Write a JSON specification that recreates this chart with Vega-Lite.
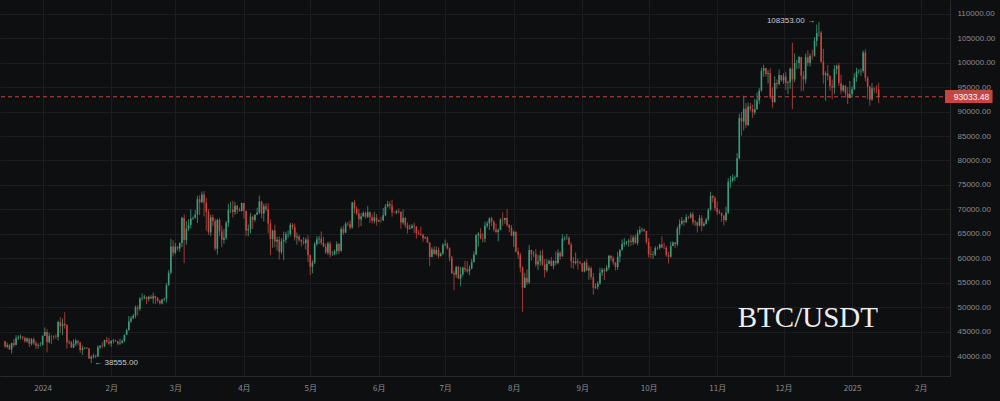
{
"$schema": "https://vega.github.io/schema/vega-lite/v6.json",
"width": 950, "height": 376,
"autosize": {"type": "none"},
"padding": {"left": 0, "top": 0, "right": 50, "bottom": 25},
"background": "#0e0f11",
"config": {"view": {"stroke": null}, "font": "Liberation Sans",
"axis": {"title": null, "grid": true, "gridColor": "#1c1d21", "gridWidth": 1, "domain": true, "domainColor": "#2a2b2f", "ticks": false, "labelColor": "#8a8c91", "labelFontSize": 8, "labelOverlap": false}},
"datasets": {
"candles": [
{"t":"2023-12-15","o":43022,"h":43080,"l":41666,"c":41940},
{"t":"2023-12-16","o":41940,"h":42724,"l":41605,"c":42278},
{"t":"2023-12-17","o":42278,"h":42424,"l":41252,"c":41374},
{"t":"2023-12-18","o":41374,"h":42757,"l":40542,"c":42657},
{"t":"2023-12-19","o":42657,"h":43497,"l":41811,"c":42271},
{"t":"2023-12-20","o":42271,"h":44283,"l":42206,"c":43652},
{"t":"2023-12-21","o":43652,"h":44240,"l":43330,"c":43869},
{"t":"2023-12-22","o":43869,"h":44398,"l":43412,"c":43997},
{"t":"2023-12-23","o":43997,"h":44000,"l":43300,"c":43740},
{"t":"2023-12-24","o":43740,"h":43946,"l":42749,"c":43016},
{"t":"2023-12-25","o":43016,"h":43800,"l":42720,"c":43613},
{"t":"2023-12-26","o":43613,"h":43647,"l":41820,"c":42520},
{"t":"2023-12-27","o":42520,"h":43683,"l":42167,"c":43442},
{"t":"2023-12-28","o":43442,"h":43804,"l":42318,"c":42627},
{"t":"2023-12-29","o":42627,"h":43124,"l":41424,"c":42099},
{"t":"2023-12-30","o":42099,"h":42612,"l":41520,"c":42283},
{"t":"2023-12-31","o":42283,"h":42899,"l":41965,"c":42290},
{"t":"2024-01-01","o":42283,"h":44184,"l":42180,"c":44179},
{"t":"2024-01-02","o":44179,"h":45879,"l":44148,"c":44946},
{"t":"2024-01-03","o":44946,"h":45500,"l":40750,"c":42845},
{"t":"2024-01-04","o":42845,"h":44729,"l":42613,"c":44151},
{"t":"2024-01-05","o":44151,"h":44357,"l":42450,"c":44145},
{"t":"2024-01-06","o":44145,"h":44214,"l":43397,"c":43968},
{"t":"2024-01-07","o":43968,"h":44480,"l":43572,"c":43929},
{"t":"2024-01-08","o":43929,"h":47248,"l":43175,"c":46951},
{"t":"2024-01-09","o":46951,"h":47972,"l":44748,"c":46110},
{"t":"2024-01-10","o":46110,"h":47695,"l":44300,"c":46633},
{"t":"2024-01-11","o":46633,"h":48969,"l":45606,"c":46339},
{"t":"2024-01-12","o":46339,"h":46515,"l":41500,"c":42782},
{"t":"2024-01-13","o":42782,"h":43257,"l":42436,"c":42847},
{"t":"2024-01-14","o":42847,"h":43079,"l":41720,"c":41732},
{"t":"2024-01-15","o":41732,"h":43400,"l":41718,"c":42511},
{"t":"2024-01-16","o":42511,"h":43578,"l":42050,"c":43137},
{"t":"2024-01-17","o":43137,"h":43198,"l":42200,"c":42776},
{"t":"2024-01-18","o":42776,"h":42930,"l":40683,"c":41262},
{"t":"2024-01-19","o":41262,"h":42195,"l":40280,"c":41618},
{"t":"2024-01-20","o":41618,"h":41840,"l":41400,"c":41665},
{"t":"2024-01-21","o":41665,"h":41882,"l":41500,"c":41545},
{"t":"2024-01-22","o":41545,"h":41689,"l":39431,"c":39507},
{"t":"2024-01-23","o":39507,"h":40129,"l":38555,"c":39845},
{"t":"2024-01-24","o":39845,"h":40498,"l":39484,"c":40077},
{"t":"2024-01-25","o":40077,"h":40300,"l":39550,"c":39933},
{"t":"2024-01-26","o":39933,"h":42225,"l":39822,"c":41816},
{"t":"2024-01-27","o":41816,"h":42200,"l":41394,"c":42120},
{"t":"2024-01-28","o":42120,"h":42842,"l":41620,"c":42035},
{"t":"2024-01-29","o":42035,"h":43305,"l":41804,"c":43288},
{"t":"2024-01-30","o":43288,"h":43882,"l":42683,"c":42952},
{"t":"2024-01-31","o":42952,"h":43745,"l":42276,"c":42582},
{"t":"2024-02-01","o":42582,"h":43285,"l":41884,"c":43082},
{"t":"2024-02-02","o":43082,"h":43495,"l":42566,"c":43200},
{"t":"2024-02-03","o":43200,"h":43380,"l":42880,"c":43011},
{"t":"2024-02-04","o":43011,"h":43120,"l":42222,"c":42582},
{"t":"2024-02-05","o":42582,"h":43530,"l":42259,"c":42708},
{"t":"2024-02-06","o":42708,"h":43400,"l":42574,"c":43098},
{"t":"2024-02-07","o":43098,"h":44396,"l":42788,"c":44349},
{"t":"2024-02-08","o":44349,"h":45614,"l":44331,"c":45288},
{"t":"2024-02-09","o":45288,"h":48200,"l":45242,"c":47132},
{"t":"2024-02-10","o":47132,"h":48170,"l":46800,"c":47751},
{"t":"2024-02-11","o":47751,"h":48592,"l":47557,"c":48299},
{"t":"2024-02-12","o":48299,"h":50334,"l":47710,"c":49917},
{"t":"2024-02-13","o":49917,"h":50368,"l":48300,"c":49700},
{"t":"2024-02-14","o":49700,"h":52043,"l":49225,"c":51795},
{"t":"2024-02-15","o":51795,"h":52816,"l":51315,"c":51880},
{"t":"2024-02-16","o":51880,"h":52572,"l":51566,"c":52124},
{"t":"2024-02-17","o":52124,"h":52191,"l":50625,"c":51642},
{"t":"2024-02-18","o":51642,"h":52356,"l":51200,"c":52137},
{"t":"2024-02-19","o":52137,"h":52488,"l":51677,"c":51774},
{"t":"2024-02-20","o":51774,"h":52985,"l":50760,"c":52258},
{"t":"2024-02-21","o":52258,"h":52366,"l":50625,"c":51849},
{"t":"2024-02-22","o":51849,"h":52065,"l":50940,"c":51288},
{"t":"2024-02-23","o":51288,"h":51548,"l":50521,"c":50745},
{"t":"2024-02-24","o":50745,"h":51706,"l":50550,"c":51571},
{"t":"2024-02-25","o":51571,"h":51950,"l":51280,"c":51733},
{"t":"2024-02-26","o":51733,"h":54938,"l":50931,"c":54476},
{"t":"2024-02-27","o":54476,"h":57588,"l":54450,"c":57037},
{"t":"2024-02-28","o":57037,"h":64000,"l":56691,"c":62432},
{"t":"2024-02-29","o":62432,"h":63676,"l":60364,"c":61130},
{"t":"2024-03-01","o":61130,"h":63114,"l":60777,"c":62387},
{"t":"2024-03-02","o":62387,"h":62433,"l":61561,"c":61987},
{"t":"2024-03-03","o":61987,"h":63231,"l":61321,"c":63113},
{"t":"2024-03-04","o":63113,"h":68499,"l":62300,"c":68245},
{"t":"2024-03-05","o":68245,"h":69000,"l":59005,"c":63724},
{"t":"2024-03-06","o":63724,"h":67637,"l":62786,"c":66074},
{"t":"2024-03-07","o":66074,"h":67985,"l":65600,"c":66823},
{"t":"2024-03-08","o":66823,"h":69990,"l":66082,"c":68124},
{"t":"2024-03-09","o":68124,"h":68541,"l":67861,"c":68313},
{"t":"2024-03-10","o":68313,"h":69887,"l":68094,"c":68955},
{"t":"2024-03-11","o":68955,"h":72800,"l":67194,"c":72078},
{"t":"2024-03-12","o":72078,"h":72890,"l":68845,"c":71452},
{"t":"2024-03-13","o":71452,"h":73650,"l":71334,"c":73072},
{"t":"2024-03-14","o":73072,"h":73777,"l":68555,"c":71388},
{"t":"2024-03-15","o":71388,"h":72357,"l":65630,"c":69499},
{"t":"2024-03-16","o":69499,"h":70043,"l":64780,"c":65300},
{"t":"2024-03-17","o":65300,"h":68904,"l":64533,"c":68393},
{"t":"2024-03-18","o":68393,"h":68957,"l":66594,"c":67609},
{"t":"2024-03-19","o":67609,"h":68124,"l":61555,"c":61937},
{"t":"2024-03-20","o":61937,"h":68100,"l":60775,"c":67840},
{"t":"2024-03-21","o":67840,"h":68240,"l":64529,"c":65501},
{"t":"2024-03-22","o":65501,"h":66650,"l":62260,"c":63796},
{"t":"2024-03-23","o":63796,"h":65999,"l":63000,"c":64209},
{"t":"2024-03-24","o":64209,"h":67624,"l":63803,"c":67234},
{"t":"2024-03-25","o":67234,"h":71162,"l":66385,"c":69958},
{"t":"2024-03-26","o":69958,"h":71561,"l":69280,"c":69987},
{"t":"2024-03-27","o":69987,"h":71769,"l":68359,"c":69455},
{"t":"2024-03-28","o":69455,"h":71552,"l":68903,"c":70744},
{"t":"2024-03-29","o":70744,"h":70913,"l":69076,"c":69892},
{"t":"2024-03-30","o":69892,"h":70355,"l":69601,"c":69645},
{"t":"2024-03-31","o":69645,"h":71366,"l":69562,"c":71333},
{"t":"2024-04-01","o":71333,"h":71342,"l":68110,"c":69702},
{"t":"2024-04-02","o":69702,"h":69708,"l":64537,"c":65709},
{"t":"2024-04-03","o":65709,"h":66914,"l":64493,"c":66000},
{"t":"2024-04-04","o":66000,"h":69292,"l":65064,"c":68508},
{"t":"2024-04-05","o":68508,"h":68725,"l":66011,"c":67837},
{"t":"2024-04-06","o":67837,"h":69000,"l":67438,"c":68896},
{"t":"2024-04-07","o":68896,"h":70326,"l":68824,"c":69360},
{"t":"2024-04-08","o":69360,"h":72797,"l":69043,"c":71620},
{"t":"2024-04-09","o":71620,"h":71758,"l":68210,"c":69146},
{"t":"2024-04-10","o":69146,"h":71172,"l":67518,"c":70631},
{"t":"2024-04-11","o":70631,"h":71305,"l":69567,"c":70006},
{"t":"2024-04-12","o":70006,"h":71227,"l":65086,"c":67116},
{"t":"2024-04-13","o":67116,"h":67932,"l":60660,"c":63924},
{"t":"2024-04-14","o":63924,"h":65840,"l":62134,"c":65661},
{"t":"2024-04-15","o":65661,"h":66867,"l":62274,"c":63419},
{"t":"2024-04-16","o":63419,"h":64365,"l":61600,"c":63793},
{"t":"2024-04-17","o":63793,"h":64499,"l":59768,"c":61277},
{"t":"2024-04-18","o":61277,"h":64125,"l":60833,"c":63470},
{"t":"2024-04-19","o":63470,"h":65450,"l":59600,"c":63818},
{"t":"2024-04-20","o":63818,"h":65419,"l":63090,"c":64941},
{"t":"2024-04-21","o":64941,"h":65695,"l":64160,"c":64960},
{"t":"2024-04-22","o":64960,"h":67233,"l":64500,"c":66837},
{"t":"2024-04-23","o":66837,"h":67199,"l":65864,"c":66407},
{"t":"2024-04-24","o":66407,"h":67075,"l":63590,"c":64276},
{"t":"2024-04-25","o":64276,"h":65275,"l":62783,"c":64481},
{"t":"2024-04-26","o":64481,"h":64800,"l":63322,"c":63755},
{"t":"2024-04-27","o":63755,"h":63899,"l":62424,"c":63419},
{"t":"2024-04-28","o":63419,"h":64370,"l":62781,"c":63113},
{"t":"2024-04-29","o":63113,"h":64228,"l":61765,"c":63841},
{"t":"2024-04-30","o":63841,"h":64734,"l":59191,"c":60636},
{"t":"2024-05-01","o":60636,"h":60780,"l":56552,"c":58254},
{"t":"2024-05-02","o":58254,"h":59602,"l":56937,"c":59123},
{"t":"2024-05-03","o":59123,"h":63320,"l":58848,"c":62889},
{"t":"2024-05-04","o":62889,"h":64494,"l":62599,"c":63891},
{"t":"2024-05-05","o":63891,"h":64610,"l":62955,"c":64031},
{"t":"2024-05-06","o":64031,"h":65500,"l":62700,"c":63161},
{"t":"2024-05-07","o":63161,"h":64390,"l":62285,"c":62334},
{"t":"2024-05-08","o":62334,"h":62995,"l":60888,"c":61187},
{"t":"2024-05-09","o":61187,"h":63404,"l":60648,"c":63049},
{"t":"2024-05-10","o":63049,"h":63469,"l":60187,"c":60792},
{"t":"2024-05-11","o":60792,"h":61490,"l":60492,"c":60793},
{"t":"2024-05-12","o":60793,"h":61818,"l":60632,"c":61448},
{"t":"2024-05-13","o":61448,"h":63450,"l":60750,"c":62901},
{"t":"2024-05-14","o":62901,"h":63099,"l":60888,"c":61552},
{"t":"2024-05-15","o":61552,"h":66444,"l":61329,"c":66010},
{"t":"2024-05-16","o":66010,"h":66686,"l":64766,"c":65231},
{"t":"2024-05-17","o":65231,"h":67459,"l":65119,"c":67051},
{"t":"2024-05-18","o":67051,"h":67400,"l":66600,"c":66940},
{"t":"2024-05-19","o":66940,"h":67700,"l":65857,"c":66278},
{"t":"2024-05-20","o":66278,"h":71515,"l":66060,"c":71446},
{"t":"2024-05-21","o":71446,"h":71979,"l":69162,"c":70148},
{"t":"2024-05-22","o":70148,"h":70666,"l":68842,"c":69166},
{"t":"2024-05-23","o":69166,"h":70096,"l":66312,"c":67969},
{"t":"2024-05-24","o":67969,"h":69250,"l":66600,"c":68549},
{"t":"2024-05-25","o":68549,"h":69610,"l":68500,"c":69290},
{"t":"2024-05-26","o":69290,"h":69562,"l":68128,"c":68507},
{"t":"2024-05-27","o":68507,"h":70687,"l":68250,"c":69436},
{"t":"2024-05-28","o":69436,"h":69591,"l":67277,"c":68398},
{"t":"2024-05-29","o":68398,"h":68935,"l":67124,"c":67652},
{"t":"2024-05-30","o":67652,"h":69500,"l":67128,"c":68352},
{"t":"2024-05-31","o":68352,"h":69044,"l":66670,"c":67540},
{"t":"2024-06-01","o":67540,"h":67900,"l":67428,"c":67766},
{"t":"2024-06-02","o":67766,"h":68460,"l":67257,"c":67765},
{"t":"2024-06-03","o":67765,"h":70288,"l":67612,"c":68809},
{"t":"2024-06-04","o":68809,"h":71063,"l":68567,"c":70567},
{"t":"2024-06-05","o":70567,"h":71758,"l":70383,"c":71082},
{"t":"2024-06-06","o":71082,"h":71625,"l":70119,"c":70757},
{"t":"2024-06-07","o":70757,"h":71997,"l":68500,"c":69342},
{"t":"2024-06-08","o":69342,"h":69582,"l":69208,"c":69305},
{"t":"2024-06-09","o":69305,"h":69887,"l":69018,"c":69647},
{"t":"2024-06-10","o":69647,"h":70195,"l":69172,"c":69512},
{"t":"2024-06-11","o":69512,"h":69568,"l":66051,"c":67321},
{"t":"2024-06-12","o":67321,"h":69999,"l":66902,"c":68243},
{"t":"2024-06-13","o":68243,"h":68449,"l":66251,"c":66756},
{"t":"2024-06-14","o":66756,"h":67320,"l":65078,"c":66011},
{"t":"2024-06-15","o":66011,"h":66895,"l":65890,"c":66191},
{"t":"2024-06-16","o":66191,"h":66998,"l":66034,"c":66639},
{"t":"2024-06-17","o":66639,"h":67298,"l":65130,"c":66490},
{"t":"2024-06-18","o":66490,"h":66556,"l":64066,"c":65140},
{"t":"2024-06-19","o":65140,"h":65738,"l":64693,"c":64960},
{"t":"2024-06-20","o":64960,"h":66482,"l":64559,"c":64829},
{"t":"2024-06-21","o":64829,"h":65066,"l":63379,"c":64096},
{"t":"2024-06-22","o":64096,"h":64520,"l":63943,"c":64252},
{"t":"2024-06-23","o":64252,"h":64527,"l":63161,"c":63180},
{"t":"2024-06-24","o":63180,"h":63369,"l":58402,"c":60277},
{"t":"2024-06-25","o":60277,"h":62258,"l":60239,"c":61806},
{"t":"2024-06-26","o":61806,"h":62487,"l":60712,"c":60864},
{"t":"2024-06-27","o":60864,"h":62389,"l":60606,"c":61706},
{"t":"2024-06-28","o":61706,"h":62225,"l":60063,"c":60427},
{"t":"2024-06-29","o":60427,"h":61224,"l":60383,"c":60986},
{"t":"2024-06-30","o":60986,"h":63058,"l":60712,"c":62772},
{"t":"2024-07-01","o":62772,"h":63861,"l":62497,"c":62900},
{"t":"2024-07-02","o":62900,"h":63288,"l":61806,"c":62029},
{"t":"2024-07-03","o":62029,"h":62272,"l":59382,"c":60173},
{"t":"2024-07-04","o":60173,"h":60498,"l":56771,"c":56977},
{"t":"2024-07-05","o":56977,"h":57500,"l":53485,"c":56662},
{"t":"2024-07-06","o":56662,"h":58475,"l":56018,"c":58231},
{"t":"2024-07-07","o":58231,"h":58472,"l":55724,"c":55857},
{"t":"2024-07-08","o":55857,"h":58236,"l":54260,"c":56714},
{"t":"2024-07-09","o":56714,"h":58296,"l":56289,"c":58050},
{"t":"2024-07-10","o":58050,"h":59470,"l":57157,"c":57725},
{"t":"2024-07-11","o":57725,"h":59359,"l":57052,"c":57339},
{"t":"2024-07-12","o":57339,"h":58526,"l":56542,"c":57889},
{"t":"2024-07-13","o":57889,"h":59850,"l":57756,"c":59204},
{"t":"2024-07-14","o":59204,"h":61420,"l":59162,"c":60797},
{"t":"2024-07-15","o":60797,"h":64900,"l":60632,"c":64724},
{"t":"2024-07-16","o":64724,"h":65388,"l":62373,"c":65043},
{"t":"2024-07-17","o":65043,"h":66128,"l":63854,"c":64087},
{"t":"2024-07-18","o":64087,"h":65133,"l":63238,"c":63987},
{"t":"2024-07-19","o":63987,"h":67470,"l":63300,"c":66660},
{"t":"2024-07-20","o":66660,"h":67598,"l":66222,"c":67139},
{"t":"2024-07-21","o":67139,"h":68366,"l":65777,"c":68165},
{"t":"2024-07-22","o":68165,"h":68474,"l":66559,"c":67532},
{"t":"2024-07-23","o":67532,"h":67750,"l":65441,"c":65936},
{"t":"2024-07-24","o":65936,"h":67102,"l":65111,"c":65372},
{"t":"2024-07-25","o":65372,"h":66112,"l":63456,"c":65777},
{"t":"2024-07-26","o":65777,"h":68200,"l":65722,"c":67912},
{"t":"2024-07-27","o":67912,"h":69399,"l":66650,"c":67813},
{"t":"2024-07-28","o":67813,"h":68318,"l":67066,"c":68255},
{"t":"2024-07-29","o":68255,"h":70079,"l":66428,"c":66819},
{"t":"2024-07-30","o":66819,"h":66987,"l":65323,"c":66201},
{"t":"2024-07-31","o":66201,"h":66810,"l":64532,"c":64620},
{"t":"2024-08-01","o":64620,"h":65660,"l":62302,"c":65357},
{"t":"2024-08-02","o":65357,"h":65596,"l":61200,"c":61415},
{"t":"2024-08-03","o":61415,"h":62198,"l":59850,"c":60681},
{"t":"2024-08-04","o":60681,"h":61117,"l":57122,"c":58116},
{"t":"2024-08-05","o":58116,"h":58305,"l":49000,"c":53991},
{"t":"2024-08-06","o":53991,"h":57040,"l":53962,"c":56034},
{"t":"2024-08-07","o":56034,"h":57736,"l":54558,"c":55027},
{"t":"2024-08-08","o":55027,"h":62745,"l":54730,"c":61710},
{"t":"2024-08-09","o":61710,"h":61800,"l":59500,"c":60880},
{"t":"2024-08-10","o":60880,"h":61464,"l":60287,"c":60945},
{"t":"2024-08-11","o":60945,"h":61858,"l":58286,"c":58719},
{"t":"2024-08-12","o":58719,"h":60680,"l":57642,"c":59354},
{"t":"2024-08-13","o":59354,"h":61572,"l":58506,"c":60609},
{"t":"2024-08-14","o":60609,"h":61800,"l":58433,"c":58737},
{"t":"2024-08-15","o":58737,"h":59850,"l":56078,"c":57560},
{"t":"2024-08-16","o":57560,"h":59847,"l":57110,"c":58874},
{"t":"2024-08-17","o":58874,"h":59700,"l":58785,"c":59491},
{"t":"2024-08-18","o":59491,"h":60284,"l":58408,"c":58427},
{"t":"2024-08-19","o":58427,"h":59617,"l":57787,"c":59438},
{"t":"2024-08-20","o":59438,"h":61400,"l":58610,"c":59013},
{"t":"2024-08-21","o":59013,"h":61820,"l":58783,"c":61156},
{"t":"2024-08-22","o":61156,"h":61400,"l":59724,"c":60381},
{"t":"2024-08-23","o":60381,"h":64955,"l":60345,"c":64037},
{"t":"2024-08-24","o":64037,"h":64500,"l":63594,"c":64157},
{"t":"2024-08-25","o":64157,"h":65000,"l":63773,"c":64220},
{"t":"2024-08-26","o":64220,"h":64481,"l":62800,"c":62834},
{"t":"2024-08-27","o":62834,"h":63212,"l":58034,"c":59415},
{"t":"2024-08-28","o":59415,"h":60234,"l":57860,"c":59034},
{"t":"2024-08-29","o":59034,"h":61166,"l":58713,"c":59359},
{"t":"2024-08-30","o":59359,"h":59944,"l":57701,"c":59123},
{"t":"2024-08-31","o":59123,"h":59462,"l":58744,"c":58973},
{"t":"2024-09-01","o":58973,"h":59054,"l":57201,"c":57301},
{"t":"2024-09-02","o":57301,"h":59425,"l":57128,"c":59132},
{"t":"2024-09-03","o":59132,"h":59809,"l":57415,"c":57487},
{"t":"2024-09-04","o":57487,"h":58519,"l":55606,"c":57970},
{"t":"2024-09-05","o":57970,"h":58327,"l":55643,"c":56160},
{"t":"2024-09-06","o":56160,"h":56995,"l":52550,"c":53962},
{"t":"2024-09-07","o":53962,"h":54850,"l":53745,"c":54160},
{"t":"2024-09-08","o":54160,"h":55318,"l":53629,"c":54869},
{"t":"2024-09-09","o":54869,"h":58088,"l":54591,"c":57042},
{"t":"2024-09-10","o":57042,"h":58044,"l":56386,"c":57635},
{"t":"2024-09-11","o":57635,"h":57981,"l":55545,"c":57339},
{"t":"2024-09-12","o":57339,"h":58588,"l":57324,"c":58132},
{"t":"2024-09-13","o":58132,"h":60625,"l":57632,"c":60498},
{"t":"2024-09-14","o":60498,"h":60610,"l":59400,"c":59993},
{"t":"2024-09-15","o":59993,"h":60395,"l":58692,"c":59132},
{"t":"2024-09-16","o":59132,"h":59210,"l":57493,"c":58213},
{"t":"2024-09-17","o":58213,"h":61320,"l":57610,"c":60309},
{"t":"2024-09-18","o":60309,"h":61786,"l":59174,"c":61759},
{"t":"2024-09-19","o":61759,"h":63850,"l":61555,"c":62947},
{"t":"2024-09-20","o":62947,"h":64133,"l":62350,"c":63201},
{"t":"2024-09-21","o":63201,"h":63559,"l":62758,"c":63348},
{"t":"2024-09-22","o":63348,"h":64000,"l":62357,"c":63578},
{"t":"2024-09-23","o":63578,"h":64745,"l":62538,"c":63339},
{"t":"2024-09-24","o":63339,"h":64688,"l":62700,"c":64262},
{"t":"2024-09-25","o":64262,"h":64817,"l":62947,"c":63143},
{"t":"2024-09-26","o":63143,"h":65839,"l":62670,"c":65181},
{"t":"2024-09-27","o":65181,"h":66498,"l":64819,"c":65790},
{"t":"2024-09-28","o":65790,"h":66260,"l":65422,"c":65887},
{"t":"2024-09-29","o":65887,"h":66076,"l":65420,"c":65602},
{"t":"2024-09-30","o":65602,"h":65618,"l":62856,"c":63327},
{"t":"2024-10-01","o":63327,"h":64130,"l":60164,"c":60805},
{"t":"2024-10-02","o":60805,"h":62392,"l":59981,"c":60649},
{"t":"2024-10-03","o":60649,"h":61469,"l":59828,"c":60752},
{"t":"2024-10-04","o":60752,"h":62484,"l":60459,"c":62086},
{"t":"2024-10-05","o":62086,"h":62370,"l":61689,"c":62058},
{"t":"2024-10-06","o":62058,"h":62975,"l":61798,"c":62819},
{"t":"2024-10-07","o":62819,"h":64478,"l":62128,"c":62224},
{"t":"2024-10-08","o":62224,"h":63200,"l":61860,"c":62160},
{"t":"2024-10-09","o":62160,"h":62543,"l":60315,"c":60636},
{"t":"2024-10-10","o":60636,"h":61321,"l":58946,"c":60326},
{"t":"2024-10-11","o":60326,"h":63417,"l":60087,"c":62540},
{"t":"2024-10-12","o":62540,"h":63480,"l":62487,"c":63206},
{"t":"2024-10-13","o":63206,"h":63285,"l":62050,"c":62870},
{"t":"2024-10-14","o":62870,"h":66500,"l":62457,"c":66084},
{"t":"2024-10-15","o":66084,"h":67950,"l":64800,"c":67075},
{"t":"2024-10-16","o":67075,"h":68424,"l":66750,"c":67620},
{"t":"2024-10-17","o":67620,"h":67939,"l":66666,"c":67421},
{"t":"2024-10-18","o":67421,"h":68969,"l":67177,"c":68428},
{"t":"2024-10-19","o":68428,"h":68693,"l":68010,"c":68378},
{"t":"2024-10-20","o":68378,"h":69400,"l":68100,"c":69032},
{"t":"2024-10-21","o":69032,"h":69519,"l":66840,"c":67378},
{"t":"2024-10-22","o":67378,"h":67836,"l":66571,"c":67426},
{"t":"2024-10-23","o":67426,"h":67472,"l":65260,"c":66668},
{"t":"2024-10-24","o":66668,"h":68850,"l":66510,"c":68198},
{"t":"2024-10-25","o":68198,"h":68771,"l":65521,"c":66698},
{"t":"2024-10-26","o":66698,"h":67454,"l":66439,"c":67047},
{"t":"2024-10-27","o":67047,"h":68332,"l":66913,"c":67930},
{"t":"2024-10-28","o":67930,"h":70270,"l":67618,"c":69907},
{"t":"2024-10-29","o":69907,"h":73620,"l":69730,"c":72720},
{"t":"2024-10-30","o":72720,"h":72961,"l":71436,"c":72339},
{"t":"2024-10-31","o":72339,"h":72700,"l":69685,"c":70215},
{"t":"2024-11-01","o":70215,"h":71632,"l":68820,"c":69482},
{"t":"2024-11-02","o":69482,"h":69914,"l":69000,"c":69289},
{"t":"2024-11-03","o":69289,"h":69362,"l":67478,"c":68742},
{"t":"2024-11-04","o":68742,"h":68830,"l":66711,"c":67811},
{"t":"2024-11-05","o":67811,"h":70577,"l":67458,"c":69359},
{"t":"2024-11-06","o":69359,"h":76400,"l":69050,"c":75639},
{"t":"2024-11-07","o":75639,"h":76849,"l":74417,"c":75905},
{"t":"2024-11-08","o":75905,"h":77199,"l":75555,"c":76538},
{"t":"2024-11-09","o":76538,"h":76932,"l":75773,"c":76649},
{"t":"2024-11-10","o":76649,"h":81500,"l":76492,"c":80475},
{"t":"2024-11-11","o":80475,"h":89604,"l":80216,"c":88701},
{"t":"2024-11-12","o":88701,"h":89956,"l":85072,"c":87955},
{"t":"2024-11-13","o":87955,"h":93265,"l":86127,"c":90584},
{"t":"2024-11-14","o":90584,"h":91765,"l":86668,"c":87250},
{"t":"2024-11-15","o":87250,"h":91850,"l":87073,"c":91066},
{"t":"2024-11-16","o":91066,"h":91779,"l":90056,"c":90558},
{"t":"2024-11-17","o":90558,"h":91449,"l":88723,"c":89845},
{"t":"2024-11-18","o":89845,"h":92594,"l":89376,"c":90464},
{"t":"2024-11-19","o":90464,"h":93905,"l":90357,"c":92310},
{"t":"2024-11-20","o":92310,"h":94831,"l":91500,"c":94286},
{"t":"2024-11-21","o":94286,"h":98988,"l":94103,"c":98317},
{"t":"2024-11-22","o":98317,"h":99588,"l":97122,"c":98892},
{"t":"2024-11-23","o":98892,"h":98908,"l":97136,"c":97672},
{"t":"2024-11-24","o":97672,"h":98564,"l":95734,"c":97900},
{"t":"2024-11-25","o":97900,"h":98871,"l":92600,"c":93010},
{"t":"2024-11-26","o":93010,"h":94973,"l":90791,"c":91965},
{"t":"2024-11-27","o":91965,"h":97208,"l":91792,"c":95863},
{"t":"2024-11-28","o":95863,"h":96564,"l":94640,"c":95643},
{"t":"2024-11-29","o":95643,"h":98619,"l":95364,"c":97461},
{"t":"2024-11-30","o":97461,"h":97463,"l":96092,"c":96407},
{"t":"2024-12-01","o":96407,"h":97836,"l":95693,"c":97185},
{"t":"2024-12-02","o":97185,"h":98130,"l":94395,"c":95840},
{"t":"2024-12-03","o":95840,"h":96305,"l":93578,"c":96002},
{"t":"2024-12-04","o":96002,"h":99000,"l":94660,"c":98768},
{"t":"2024-12-05","o":98768,"h":104088,"l":90500,"c":96593},
{"t":"2024-12-06","o":96593,"h":101898,"l":95981,"c":99920},
{"t":"2024-12-07","o":99920,"h":100551,"l":98657,"c":99923},
{"t":"2024-12-08","o":99923,"h":101399,"l":98771,"c":101170},
{"t":"2024-12-09","o":101170,"h":101215,"l":94150,"c":97356},
{"t":"2024-12-10","o":97356,"h":98270,"l":94256,"c":96593},
{"t":"2024-12-11","o":96593,"h":101895,"l":95700,"c":101125},
{"t":"2024-12-12","o":101125,"h":102540,"l":99311,"c":100004},
{"t":"2024-12-13","o":100004,"h":101895,"l":99205,"c":101424},
{"t":"2024-12-14","o":101424,"h":102650,"l":100610,"c":101421},
{"t":"2024-12-15","o":101421,"h":105250,"l":101227,"c":104463},
{"t":"2024-12-16","o":104463,"h":107793,"l":103333,"c":106058},
{"t":"2024-12-17","o":106058,"h":108353,"l":105321,"c":106133},
{"t":"2024-12-18","o":106133,"h":106524,"l":100000,"c":100204},
{"t":"2024-12-19","o":100204,"h":102800,"l":95700,"c":97461},
{"t":"2024-12-20","o":97461,"h":98233,"l":92232,"c":97805},
{"t":"2024-12-21","o":97805,"h":99540,"l":96398,"c":97291},
{"t":"2024-12-22","o":97291,"h":97448,"l":94250,"c":95186},
{"t":"2024-12-23","o":95186,"h":96538,"l":92520,"c":94881},
{"t":"2024-12-24","o":94881,"h":99487,"l":93568,"c":98663},
{"t":"2024-12-25","o":98663,"h":99569,"l":97632,"c":99429},
{"t":"2024-12-26","o":99429,"h":99963,"l":95200,"c":95792},
{"t":"2024-12-27","o":95792,"h":97544,"l":93500,"c":94299},
{"t":"2024-12-28","o":94299,"h":95525,"l":94014,"c":95300},
{"t":"2024-12-29","o":95300,"h":95350,"l":92881,"c":93738},
{"t":"2024-12-30","o":93738,"h":95024,"l":91530,"c":92792},
{"t":"2024-12-31","o":92792,"h":96250,"l":92750,"c":93576},
{"t":"2025-01-01","o":93576,"h":95150,"l":92888,"c":94591},
{"t":"2025-01-02","o":94591,"h":97839,"l":94392,"c":96984},
{"t":"2025-01-03","o":96984,"h":98976,"l":96100,"c":98174},
{"t":"2025-01-04","o":98174,"h":98734,"l":97735,"c":98236},
{"t":"2025-01-05","o":98236,"h":98813,"l":97291,"c":98314},
{"t":"2025-01-06","o":98314,"h":102482,"l":97926,"c":102078},
{"t":"2025-01-07","o":102078,"h":102724,"l":96181,"c":96922},
{"t":"2025-01-08","o":96922,"h":97258,"l":92500,"c":95043},
{"t":"2025-01-09","o":95043,"h":95349,"l":91220,"c":92484},
{"t":"2025-01-10","o":92484,"h":95836,"l":92206,"c":94701},
{"t":"2025-01-11","o":94701,"h":94977,"l":93840,"c":94566},
{"t":"2025-01-12","o":94566,"h":95378,"l":93712,"c":94488},
{"t":"2025-01-13","o":94488,"h":95900,"l":91700,"c":93033.48}
],
"price": [{"p": 93033.48, "label": "93033.48"}],
"notes": [
{"t": "2024-12-17", "v": 108353, "label": "108353.00 →", "side": "right"},
{"t": "2024-01-23", "v": 38555, "label": "← 38555.00", "side": "left"}
],
"mark": [{"label": "BTC/USDT"}]
},
"layer": [
{
"data": {"name": "candles"},
"mark": {"type": "rule", "strokeWidth": 0.8},
"encoding": {
"x": {"field": "t", "type": "temporal",
"scale": {"type": "utc", "domain": [1702598400000, 1739318400000]},
"axis": {"orient": "bottom", "values": [1704067200000,1706745600000,1709251200000,1711929600000,1714521600000,1717200000000,1719792000000,1722470400000,1725148800000,1727740800000,1730419200000,1733011200000,1735689600000,1738368000000], "labelExpr": "utcmonth(datum.value) == 0 ? utcFormat(datum.value, '%Y') : (utcmonth(datum.value) + 1) + '月'", "labelFont": "Noto Sans CJK SC", "labelPadding": 8, "labelFlush": false}},
"y": {"field": "l", "type": "quantitative",
"scale": {"domain": [35930, 112822], "nice": false, "zero": false},
"axis": {"orient": "right", "values": [40000,45000,50000,55000,60000,65000,70000,75000,80000,85000,90000,95000,100000,105000,110000], "format": ".2f", "labelPadding": 7, "labelAlign": "left", "labelBaseline": "middle"}},
"y2": {"field": "h"},
"color": {"condition": {"test": "datum.c >= datum.o", "value": "#3e9c79"}, "value": "#c5453f"}
}
},
{
"data": {"name": "candles"},
"mark": {"type": "bar", "size": 1.6},
"encoding": {
"x": {"field": "t", "type": "temporal",
"axis": {"orient": "bottom", "values": [1704067200000,1706745600000,1709251200000,1711929600000,1714521600000,1717200000000,1719792000000,1722470400000,1725148800000,1727740800000,1730419200000,1733011200000,1735689600000,1738368000000], "labelExpr": "utcmonth(datum.value) == 0 ? utcFormat(datum.value, '%Y') : (utcmonth(datum.value) + 1) + '月'", "labelFont": "Noto Sans CJK SC", "labelPadding": 8, "labelFlush": false}},
"y": {"field": "o", "type": "quantitative",
"axis": {"orient": "right", "values": [40000,45000,50000,55000,60000,65000,70000,75000,80000,85000,90000,95000,100000,105000,110000], "format": ".2f", "labelPadding": 7, "labelAlign": "left", "labelBaseline": "middle"}},
"y2": {"field": "c"},
"color": {"condition": {"test": "datum.c >= datum.o", "value": "#3e9c79"}, "value": "#c5453f"}
}
},
{
"data": {"name": "price"},
"mark": {"type": "rule", "strokeDash": [4, 3], "color": "#c5453f", "strokeWidth": 1},
"encoding": {
"y": {"field": "p", "type": "quantitative",
"axis": {"orient": "right", "values": [40000,45000,50000,55000,60000,65000,70000,75000,80000,85000,90000,95000,100000,105000,110000], "format": ".2f", "labelPadding": 7, "labelAlign": "left", "labelBaseline": "middle"}}
}
},
{
"data": {"name": "price"},
"mark": {"type": "rect", "color": "#c5453f"},
"encoding": {
"x": {"datum": 1739318400000, "type": "temporal",
"axis": {"orient": "bottom", "values": [1704067200000,1706745600000,1709251200000,1711929600000,1714521600000,1717200000000,1719792000000,1722470400000,1725148800000,1727740800000,1730419200000,1733011200000,1735689600000,1738368000000], "labelExpr": "utcmonth(datum.value) == 0 ? utcFormat(datum.value, '%Y') : (utcmonth(datum.value) + 1) + '月'", "labelFont": "Noto Sans CJK SC", "labelPadding": 8, "labelFlush": false}},
"x2": {"datum": 1741176000000},
"y": {"datum": 94420, "type": "quantitative",
"axis": {"orient": "right", "values": [40000,45000,50000,55000,60000,65000,70000,75000,80000,85000,90000,95000,100000,105000,110000], "format": ".2f", "labelPadding": 7, "labelAlign": "left", "labelBaseline": "middle"}},
"y2": {"datum": 91760}
}
},
{
"data": {"name": "price"},
"mark": {"type": "text", "align": "left", "baseline": "middle", "color": "#ffffff", "fontSize": 8.5},
"encoding": {
"x": {"datum": 1739664000000, "type": "temporal",
"axis": {"orient": "bottom", "values": [1704067200000,1706745600000,1709251200000,1711929600000,1714521600000,1717200000000,1719792000000,1722470400000,1725148800000,1727740800000,1730419200000,1733011200000,1735689600000,1738368000000], "labelExpr": "utcmonth(datum.value) == 0 ? utcFormat(datum.value, '%Y') : (utcmonth(datum.value) + 1) + '月'", "labelFont": "Noto Sans CJK SC", "labelPadding": 8, "labelFlush": false}},
"y": {"field": "p", "type": "quantitative",
"axis": {"orient": "right", "values": [40000,45000,50000,55000,60000,65000,70000,75000,80000,85000,90000,95000,100000,105000,110000], "format": ".2f", "labelPadding": 7, "labelAlign": "left", "labelBaseline": "middle"}},
"text": {"field": "label"}
}
},
{
"data": {"name": "notes"},
"transform": [{"filter": "datum.side == 'right'"}],
"mark": {"type": "text", "align": "right", "baseline": "middle", "dx": -4, "dy": -1, "color": "#c9cacd", "fontSize": 8},
"encoding": {
"x": {"field": "t", "type": "temporal",
"axis": {"orient": "bottom", "values": [1704067200000,1706745600000,1709251200000,1711929600000,1714521600000,1717200000000,1719792000000,1722470400000,1725148800000,1727740800000,1730419200000,1733011200000,1735689600000,1738368000000], "labelExpr": "utcmonth(datum.value) == 0 ? utcFormat(datum.value, '%Y') : (utcmonth(datum.value) + 1) + '月'", "labelFont": "Noto Sans CJK SC", "labelPadding": 8, "labelFlush": false}},
"y": {"field": "v", "type": "quantitative",
"axis": {"orient": "right", "values": [40000,45000,50000,55000,60000,65000,70000,75000,80000,85000,90000,95000,100000,105000,110000], "format": ".2f", "labelPadding": 7, "labelAlign": "left", "labelBaseline": "middle"}},
"text": {"field": "label"}
}
},
{
"data": {"name": "notes"},
"transform": [{"filter": "datum.side == 'left'"}],
"mark": {"type": "text", "align": "left", "baseline": "middle", "dx": 3, "color": "#c9cacd", "fontSize": 8},
"encoding": {
"x": {"field": "t", "type": "temporal",
"axis": {"orient": "bottom", "values": [1704067200000,1706745600000,1709251200000,1711929600000,1714521600000,1717200000000,1719792000000,1722470400000,1725148800000,1727740800000,1730419200000,1733011200000,1735689600000,1738368000000], "labelExpr": "utcmonth(datum.value) == 0 ? utcFormat(datum.value, '%Y') : (utcmonth(datum.value) + 1) + '月'", "labelFont": "Noto Sans CJK SC", "labelPadding": 8, "labelFlush": false}},
"y": {"field": "v", "type": "quantitative",
"axis": {"orient": "right", "values": [40000,45000,50000,55000,60000,65000,70000,75000,80000,85000,90000,95000,100000,105000,110000], "format": ".2f", "labelPadding": 7, "labelAlign": "left", "labelBaseline": "middle"}},
"text": {"field": "label"}
}
},
{
"data": {"name": "mark"},
"mark": {"type": "text", "align": "center", "baseline": "alphabetic", "font": "Liberation Serif", "fontSize": 29, "color": "#eeeeee"},
"encoding": {
"x": {"datum": 1733961600000, "type": "temporal",
"axis": {"orient": "bottom", "values": [1704067200000,1706745600000,1709251200000,1711929600000,1714521600000,1717200000000,1719792000000,1722470400000,1725148800000,1727740800000,1730419200000,1733011200000,1735689600000,1738368000000], "labelExpr": "utcmonth(datum.value) == 0 ? utcFormat(datum.value, '%Y') : (utcmonth(datum.value) + 1) + '月'", "labelFont": "Noto Sans CJK SC", "labelPadding": 8, "labelFlush": false}},
"y": {"datum": 46000, "type": "quantitative",
"axis": {"orient": "right", "values": [40000,45000,50000,55000,60000,65000,70000,75000,80000,85000,90000,95000,100000,105000,110000], "format": ".2f", "labelPadding": 7, "labelAlign": "left", "labelBaseline": "middle"}},
"text": {"field": "label"}
}
}
]
}
